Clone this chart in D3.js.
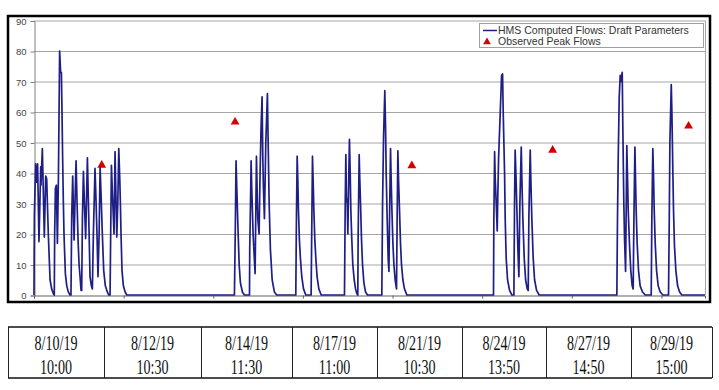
<!DOCTYPE html>
<html>
<head>
<meta charset="utf-8">
<script src="https://cdn.jsdelivr.net/npm/d3@7"></script>
<style>
body { margin: 0; background: #fff; }
svg { display: block; }
</style>
</head>
<body>
<svg id="chart" width="719" height="390"></svg>
<script>
// computed flows, [hours from start, cfs], one array per storm cluster
var clusterA = [[0,0],[0.2,17.5],[0.3,26],[1.3,43],[2.1,37],[2.9,43],[4.0,17.5],[5.4,42],[5.6,36],[6.7,48],[8.3,19],[9.4,39],[10.2,38],[10.7,31],[11.5,20],[12.9,5],[14.2,2],[15.5,0.5],[16.3,0],
    [16.6,20],[17.2,35],[18.0,36],[18.8,17],[19.6,38],[20.1,59],[20.6,80],[21.4,73],[22.0,73],[22.5,60],[23.0,45],[23.6,30],[24.1,20],[25.2,7],[26.3,3],[27.6,1],[28.9,0],
    [29.7,0],[30.3,26],[31.1,39],[32.2,18],[33.2,35],[33.8,44],[34.6,30],[35.4,18],[36.2,10],[37.0,6],[37.8,1.5],[38.3,1.5],[38.9,25],[39.7,40.5],[40.7,28],[41.5,18.5],[42.9,45],[43.9,27],[45.0,6],[46.1,3],[46.9,2],
    [47.7,20],[49.0,41.5],[49.6,34],[50.6,20],[51.4,6],[52.3,20],[53.1,42],[54.1,30],[54.9,20],[56.0,8],[57.3,3],[58.9,1],[60.0,0],
    [61.1,0],[61.6,20],[62.2,42.5],[63.0,33],[64.3,20],[65.1,47],[66.5,19],[67.3,30],[68.1,48],[68.9,38],[69.4,30],[69.9,20],[70.7,8],[71.8,3],[73.2,1],[74.5,0]];
var clusterB = [[161.0,0],[161.8,25],[162.3,44],[162.9,35],[163.4,28],[164.0,20],[164.8,10],[165.8,4],[167.4,1],[169.0,0],
    [173.1,0],[173.3,15],[173.9,30],[174.4,44],[174.9,35],[176.0,20],[177.6,7],[178.7,45.5],[179.2,35],[179.8,25],[180.8,20],[181.6,40],[182.4,55],[183.2,65],[183.8,45],[184.3,35],[185.1,25],[186.2,50],[187.5,66],[188.1,50],[188.9,30],[189.9,15],[191.3,5],[193.1,1],[195.0,0]];
var clusterC = [[210.3,0],[210.8,25],[211.4,45.5],[211.9,38],[212.4,28],[213.2,18],[214.0,12],[215.1,6],[216.5,2],[218.3,0],
    [222.6,0],[223.2,25],[223.7,45.5],[224.2,38],[224.8,28],[225.6,18],[226.4,12],[227.4,6],[228.8,2],[230.7,0]];
var clusterD = [[249.4,0],[250.0,30],[250.5,46],[251.0,32],[251.6,30],[252.1,20],[252.9,40],[253.4,51],[254.0,40],[254.5,28],[255.3,18],[256.1,10],[257.2,5],[258.3,2],[259.3,0.5],[260.1,0],
    [260.4,20],[261.2,46],[261.7,38],[262.3,30],[263.1,18],[263.9,10],[265.0,4],[266.3,1],[267.9,0],
    [279.4,0],[280.0,30],[280.8,52],[281.8,67],[282.4,55],[282.9,40],[283.7,25],[284.5,12],[285.1,7.7],[285.6,25],[286.4,48],[286.9,38],[287.5,28],[288.3,17],[289.1,10],[290.1,5],[291.2,2],
    [291.7,25],[292.3,47.3],[292.8,38],[293.6,28],[294.4,17],[295.2,10],[296.3,5],[297.6,2],[299.5,0]];
var clusterE = [[369.1,0],[369.4,25],[370.0,47],[370.5,38],[371.3,30],[372.1,21],[372.4,29],[373.2,45],[374.5,59.6],[375.6,72],[376.4,72.5],[376.9,60],[378.0,40],[378.5,25],[379.3,12],[380.4,5],[382.0,1.5],[383.9,0],
    [385.5,0],[386.0,30],[386.5,47.5],[387.1,40],[387.9,28],[388.7,15],[389.5,6],[390.3,30],[391.4,48.5],[391.9,38],[392.7,25],[393.8,12],[394.9,5],[396.2,2],[397.0,1.5],
    [397.5,25],[398.6,47.5],[399.1,38],[399.9,25],[401.0,12],[402.1,5],[403.7,1.5],[405.8,0]];
var clusterF = [[468.2,0],[468.7,25],[469.3,45],[470.1,65],[470.9,72],[471.4,70],[472.5,73],[473.0,55],[473.8,30],[474.4,18],[475.2,7.7],[475.7,28],[476.2,49],[476.8,38],[477.3,28],[478.4,16],[479.4,8],[480.5,3],[481.3,2],
    [481.9,25],[482.7,48.5],[483.2,38],[483.7,28],[484.5,17],[485.6,8],[486.9,3],[488.8,1],[491.0,0],
    [495.8,0],[496.3,25],[497.1,48],[497.7,38],[498.2,28],[499.0,17],[500.1,8],[501.4,3],[503.0,1],[505.2,0],
    [509.7,0],[510.3,25],[510.8,50],[511.9,69],[512.4,60],[513.2,40],[513.7,28],[514.5,16],[515.6,8],[517.0,3],[518.6,1],[520.4,0],[539,0]];

var peakHours = [54.4, 161.5, 303.5, 416.6, 525.8];
var peakFlows = [42.6, 56.7, 42.4, 47.5, 55.4];

var yTicks = [0, 10, 20, 30, 40, 50, 60, 70, 80, 90];
var xTickHours = [0, 72, 144, 216, 288, 360, 432, 504];

var tableDates = ["8/10/19", "8/12/19", "8/14/19", "8/17/19", "8/21/19", "8/24/19", "8/27/19", "8/29/19"];
var tableTimes = ["10:00", "10:30", "11:30", "11:00", "10:30", "13:50", "14:50", "15:00"];
var tableEdges = [8, 104, 201, 292, 377, 462, 546, 631, 712];

var LINE_COLOR = "#1e1e86";
var PEAK_COLOR = "#d40000";

function drawFrame(svg) {
    svg.append("rect")
        .attr("x", 8).attr("y", 16)
        .attr("width", 702).attr("height", 286)
        .attr("fill", "#fff")
        .attr("stroke", "#000")
        .attr("stroke-width", 2.5);
}

function drawAxes(svg, x, y) {
    let grid = svg.append("g").attr("class", "grid");
    grid.selectAll("line")
        .data(yTicks.filter(t => t > 0))
        .enter().append("line")
        .attr("x1", x.range()[0]).attr("x2", x.range()[1])
        .attr("y1", d => y(d) + 0.5).attr("y2", d => y(d) + 0.5)
        .attr("stroke", "#a6a6a6")
        .attr("stroke-width", 1);

    // right edge of plot area
    svg.append("line")
        .attr("x1", x.range()[1] + 0.5).attr("x2", x.range()[1] + 0.5)
        .attr("y1", y(90)).attr("y2", y(0))
        .attr("stroke", "#a6a6a6");

    let yAxis = svg.append("g")
        .attr("transform", "translate(" + (x.range()[0] + 0.5) + ",0.5)")
        .call(d3.axisLeft(y).tickValues(yTicks).tickSize(4).tickPadding(4));
    yAxis.select(".domain").attr("stroke", "#808080");
    yAxis.selectAll(".tick line").attr("stroke", "#808080");
    yAxis.selectAll("text")
        .attr("fill", "#444")
        .style("font-family", "'Liberation Sans', Arial, sans-serif")
        .style("font-size", "9.5px");

    let xAxis = svg.append("g")
        .attr("transform", "translate(0," + (y(0) + 0.5) + ")")
        .call(d3.axisBottom(x).tickValues(xTickHours).tickSize(3).tickFormat(""));
    xAxis.select(".domain").attr("stroke", "#606060");
    xAxis.selectAll(".tick line").attr("stroke", "#606060");
}

function drawFlows(svg, x, y) {
    let series = clusterA.concat(clusterB, clusterC, clusterD, clusterE, clusterF);
    let line = d3.line()
        .x(d => x(d[0]))
        .y(d => y(d[1]));
    svg.append("path")
        .datum(series)
        .attr("fill", "none")
        .attr("stroke", LINE_COLOR)
        .attr("stroke-width", 1.7)
        .attr("stroke-linejoin", "round")
        .attr("d", line);
}

function drawPeaks(svg, x, y) {
    let tri = d3.symbol().type(d3.symbolTriangle).size(34);
    svg.append("g")
        .selectAll("path")
        .data(peakHours.map((h, i) => ({hour: h, flow: peakFlows[i]})))
        .enter().append("path")
        .attr("d", tri)
        .attr("fill", PEAK_COLOR)
        .attr("transform", d => "translate(" + x(d.hour) + "," + y(d.flow) + ")");
}

function drawLegend(svg) {
    let g = svg.append("g").attr("transform", "translate(479,23)");
    g.append("rect")
        .attr("x", 0.5).attr("y", 0.5)
        .attr("width", 224).attr("height", 24)
        .attr("fill", "#fff")
        .attr("stroke", "#a0a0a0");
    g.append("line")
        .attr("x1", 4).attr("x2", 18)
        .attr("y1", 7.5).attr("y2", 7.5)
        .attr("stroke", LINE_COLOR)
        .attr("stroke-width", 1.5);
    g.append("path")
        .attr("d", d3.symbol().type(d3.symbolTriangle).size(26))
        .attr("fill", PEAK_COLOR)
        .attr("transform", "translate(8,19)");
    let labels = ["HMS Computed Flows: Draft Parameters", "Observed Peak Flows"];
    g.selectAll("text")
        .data(labels)
        .enter().append("text")
        .attr("x", 19)
        .attr("y", (d, i) => 11 + i * 11)
        .attr("fill", "#333")
        .style("font-family", "'Liberation Sans', Arial, sans-serif")
        .style("font-size", "10.5px")
        .text(d => d);
}

function drawTable(svg) {
    let top = 327, bottom = 378;
    let g = svg.append("g").attr("class", "table");
    g.append("line")
        .attr("x1", tableEdges[0]).attr("x2", tableEdges[tableEdges.length - 1])
        .attr("y1", top).attr("y2", top)
        .attr("stroke", "#111").attr("stroke-width", 1.6);
    g.append("line")
        .attr("x1", tableEdges[0]).attr("x2", tableEdges[tableEdges.length - 1])
        .attr("y1", bottom).attr("y2", bottom)
        .attr("stroke", "#111").attr("stroke-width", 1.6);
    g.selectAll("line.col")
        .data(tableEdges)
        .enter().append("line")
        .attr("class", "col")
        .attr("x1", d => d + 0.5).attr("x2", d => d + 0.5)
        .attr("y1", top).attr("y2", bottom)
        .attr("stroke", "#222").attr("stroke-width", 1);

    let cells = g.selectAll("g.cell")
        .data(tableDates.map((d, i) => ({date: d, time: tableTimes[i], cx: (tableEdges[i] + tableEdges[i + 1]) / 2})))
        .enter().append("g")
        .attr("class", "cell")
        .attr("transform", d => "translate(" + d.cx + ",0) scale(0.64,1)");
    cells.append("text")
        .attr("y", 350)
        .text(d => d.date);
    cells.append("text")
        .attr("y", 374)
        .text(d => d.time);
    cells.selectAll("text")
        .attr("text-anchor", "middle")
        .attr("fill", "#111")
        .style("font-family", "'Liberation Serif', 'Times New Roman', serif")
        .style("font-size", "22px");
}

document.addEventListener("DOMContentLoaded", () => {
    let svg = d3.select("#chart");

    let x = d3.scaleLinear().domain([0, 539]).range([34, 705]);
    let y = d3.scaleLinear().domain([0, 90]).range([295, 20.5]);

    drawFrame(svg);
    drawAxes(svg, x, y);
    drawFlows(svg, x, y);
    drawPeaks(svg, x, y);
    drawLegend(svg);
    drawTable(svg);
});
</script>
</body>
</html>
